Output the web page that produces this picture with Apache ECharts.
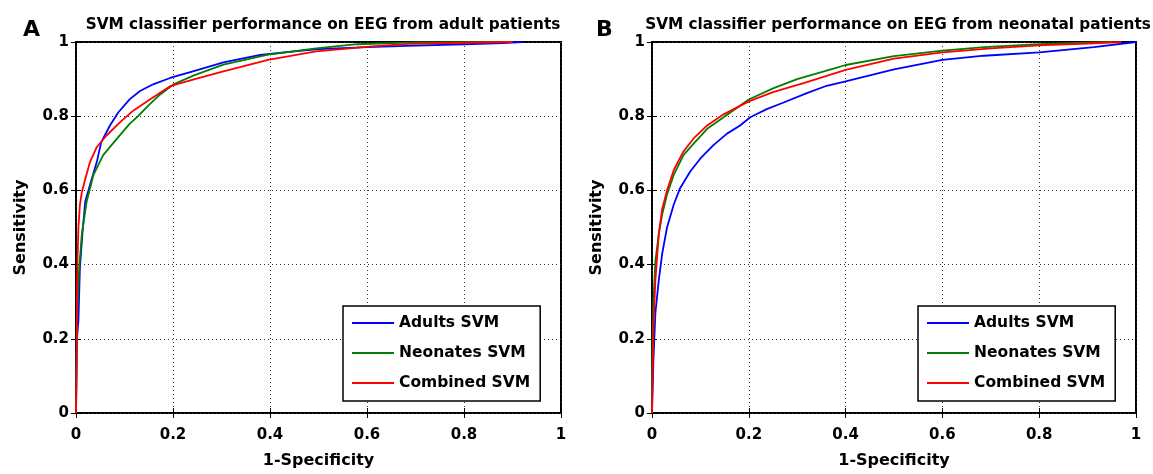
<!DOCTYPE html>
<html>
<head>
<meta charset="utf-8">
<title>SVM classifier ROC curves</title>
<script src="https://cdn.jsdelivr.net/npm/echarts@6/dist/echarts.min.js"></script>
<style>
  html, body { margin: 0; padding: 0; background: #fff; }
  #main { width: 1153px; height: 474px; }
</style>
</head>
<body>
<div id="main"></div>
<script>
// ROC points [1-specificity, sensitivity]
// panel A: EEG from adult patients
var adultAdultsSVM = [[0,0],[0.002,0.2],[0.005,0.25],[0.008,0.39],[0.013,0.48],[0.019,0.57],[0.029,0.615],[0.043,0.677],[0.052,0.73],[0.07,0.775],[0.087,0.81],[0.111,0.846],[0.132,0.868],[0.159,0.886],[0.194,0.903],[0.241,0.921],[0.304,0.945],[0.38,0.965],[0.45,0.975],[0.5,0.981],[0.6,0.986],[0.7,0.99],[0.8,0.994],[0.88,0.997],[0.92,1.0]];
var adultNeonatesSVM = [[0,0],[0.002,0.25],[0.006,0.38],[0.012,0.482],[0.022,0.57],[0.036,0.642],[0.056,0.695],[0.084,0.739],[0.111,0.78],[0.128,0.8],[0.15,0.83],[0.173,0.858],[0.2,0.885],[0.243,0.91],[0.304,0.939],[0.396,0.966],[0.495,0.983],[0.58,0.994],[0.7,0.999],[0.9,1.0]];
var adultCombinedSVM = [[0,0],[0.001,0.12],[0.002,0.3],[0.003,0.41],[0.005,0.5],[0.008,0.56],[0.012,0.595],[0.019,0.63],[0.029,0.677],[0.043,0.717],[0.063,0.748],[0.091,0.784],[0.118,0.815],[0.153,0.846],[0.194,0.881],[0.243,0.899],[0.304,0.921],[0.396,0.952],[0.495,0.975],[0.61,0.988],[0.686,0.995],[0.8,0.998],[0.9,1.0]];
// panel B: EEG from neonatal patients
var neoAdultsSVM = [[0,0],[0.001,0.05],[0.003,0.145],[0.007,0.27],[0.014,0.358],[0.021,0.429],[0.031,0.5],[0.045,0.562],[0.058,0.606],[0.079,0.651],[0.1,0.686],[0.127,0.722],[0.155,0.753],[0.182,0.775],[0.203,0.797],[0.237,0.819],[0.272,0.837],[0.32,0.862],[0.361,0.882],[0.4,0.894],[0.45,0.91],[0.5,0.926],[0.6,0.952],[0.686,0.963],[0.8,0.972],[0.913,0.986],[1.0,1.0]];
var neoNeonatesSVM = [[0,0],[0.001,0.2],[0.003,0.3],[0.007,0.41],[0.014,0.482],[0.021,0.535],[0.031,0.589],[0.045,0.642],[0.065,0.695],[0.086,0.726],[0.114,0.766],[0.148,0.797],[0.2,0.845],[0.25,0.875],[0.3,0.9],[0.375,0.928],[0.4,0.938],[0.5,0.962],[0.6,0.977],[0.686,0.986],[0.8,0.994],[0.913,0.999],[0.95,1.0]];
var neoCombinedSVM = [[0,0],[0.001,0.093],[0.003,0.234],[0.007,0.358],[0.014,0.482],[0.021,0.55],[0.031,0.6],[0.045,0.655],[0.065,0.705],[0.086,0.74],[0.114,0.775],[0.148,0.805],[0.2,0.84],[0.25,0.865],[0.32,0.892],[0.4,0.925],[0.5,0.955],[0.6,0.972],[0.7,0.983],[0.8,0.991],[0.9,0.996],[0.97,1.0]];

var seriesNames = ['Adults SVM', 'Neonates SVM', 'Combined SVM'];
var seriesColors = ['#0000ff', '#008000', '#ff0000'];
var panelTitles = ['SVM classifier performance on EEG from adult patients', 'SVM classifier performance on EEG from neonatal patients'];
var panelLetters = ['A', 'B'];
var xAxisName = '1-Specificity';
var yAxisName = 'Sensitivity';

var FONT = '"DejaVu Sans", sans-serif';
var grids = [
    {left: 76, top: 42, width: 485, height: 376},
    {left: 652, top: 42, width: 484, height: 376}
];

function mainX(i) {
    return {
        type: 'value', gridIndex: i, min: 0, max: 1, interval: 0.2,
        name: xAxisName, nameLocation: 'middle', nameGap: 40,
        nameTextStyle: {fontFamily: FONT, fontWeight: 'bold', fontSize: 16, color: '#000'},
        axisLine: {show: false},
        axisTick: {inside: true, length: 5, lineStyle: {color: '#000', width: 1}},
        axisLabel: {margin: 15, fontFamily: FONT, fontWeight: 'bold', fontSize: 15, color: '#000'},
        splitLine: {show: true, lineStyle: {color: '#333', width: 1, type: [1, 3]}}
    };
}
function mainY(i) {
    return {
        type: 'value', gridIndex: i, min: 0, max: 1, interval: 0.2,
        name: yAxisName, nameLocation: 'middle', nameGap: 47,
        nameTextStyle: {fontFamily: FONT, fontWeight: 'bold', fontSize: 16, color: '#000'},
        axisLine: {show: false},
        axisTick: {inside: true, length: 5, lineStyle: {color: '#000', width: 1}},
        axisLabel: {margin: 7, fontFamily: FONT, fontWeight: 'bold', fontSize: 15, color: '#000'},
        splitLine: {show: true, lineStyle: {color: '#333', width: 1, type: [1, 3]}}
    };
}
// tick-only axes on the top and right sides of each box
function tickAxis(i, pos) {
    return {
        type: 'value', gridIndex: i, position: pos, min: 0, max: 1, interval: 0.2,
        axisLine: {show: false},
        axisTick: {inside: true, length: 5, lineStyle: {color: '#000', width: 1}},
        axisLabel: {show: false},
        splitLine: {show: false}
    };
}

var panelData = [
    [adultAdultsSVM, adultNeonatesSVM, adultCombinedSVM],
    [neoAdultsSVM, neoNeonatesSVM, neoCombinedSVM]
];

var series = [];
panelData.forEach(function (curves, p) {
    curves.forEach(function (pts, k) {
        series.push({
            name: seriesNames[k],
            type: 'line',
            xAxisIndex: p,
            yAxisIndex: p,
            data: pts,
            showSymbol: false,
            smooth: false,
            lineStyle: {color: seriesColors[k], width: 1.8},
            itemStyle: {color: seriesColors[k]},
            clip: false,
            z: 3
        });
    });
});

var legendBase = {
    orient: 'vertical',
    top: 306,
    data: seriesNames,
    icon: 'rect',
    itemWidth: 42,
    itemHeight: 2,
    itemGap: 10,
    padding: [7, 10, 8, 9],
    borderColor: '#000',
    borderWidth: 1.5,
    backgroundColor: '#fff',
    selectedMode: false,
    textStyle: {fontFamily: FONT, fontWeight: 'bold', fontSize: 15.5, color: '#000', lineHeight: 20}
};

var titleStyle = {fontFamily: FONT, fontWeight: 'bold', fontSize: 15.3, color: '#000'};

var myChart = echarts.init(document.getElementById('main'));
myChart.setOption({
    backgroundColor: '#fff',
    animation: false,
    title: [
        {text: panelTitles[0], left: 318, top: 13, textAlign: 'center', textStyle: titleStyle},
        {text: panelTitles[1], left: 893, top: 13, textAlign: 'center', textStyle: titleStyle},
        {text: panelLetters[0], left: 18, top: 14, textStyle: {fontFamily: FONT, fontWeight: 'bold', fontSize: 22, color: '#000'}},
        {text: panelLetters[1], left: 591, top: 14, textStyle: {fontFamily: FONT, fontWeight: 'bold', fontSize: 22, color: '#000'}}
    ],
    legend: [
        Object.assign({}, legendBase, {left: 343}),
        Object.assign({}, legendBase, {left: 918})
    ],
    grid: grids.map(function (g) {
        return Object.assign({show: true, borderColor: '#000', borderWidth: 2, backgroundColor: 'transparent'}, g);
    }),
    xAxis: [mainX(0), mainX(1), tickAxis(0, 'top'), tickAxis(1, 'top')],
    yAxis: [mainY(0), mainY(1), tickAxis(0, 'right'), tickAxis(1, 'right')],
    series: series
});
</script>
</body>
</html>
